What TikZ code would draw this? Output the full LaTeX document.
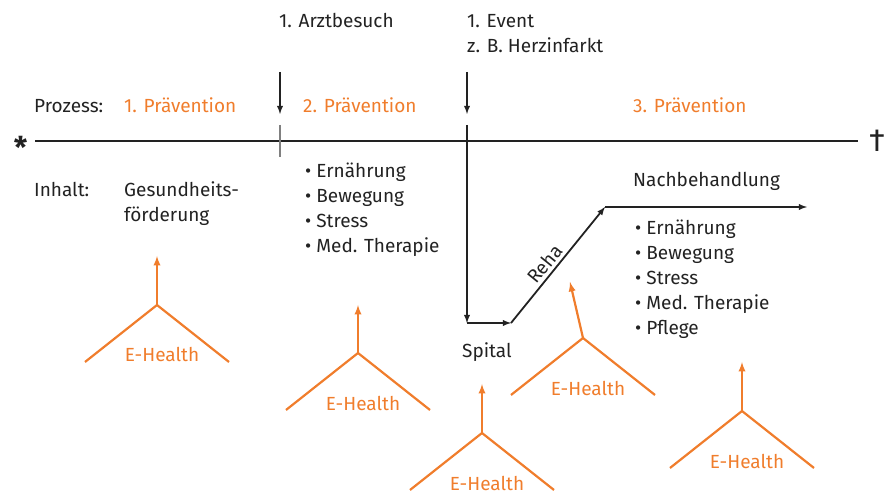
\documentclass[tikz,border=0pt]{standalone}
\usepackage{fontspec}
\setmainfont{Fira Sans}
\usetikzlibrary{arrows}
\definecolor{ehorange}{HTML}{F07D2C}
\definecolor{ink}{HTML}{222222}
\begin{document}
\begin{tikzpicture}[x=1pt,y=-1pt]
\tikzstyle{txt}=[inner sep=0pt, anchor=base west, text=ink, font=\fontsize{19}{25}\selectfont]
\tikzstyle{phase}=[txt, text=ehorange]
\tikzstyle{eh}=[inner sep=0pt, anchor=base, text=ehorange, font=\fontsize{19}{25}\selectfont]
\tikzstyle{flow}=[-latex, line width=1.8pt, draw=ink]
\tikzstyle{ehline}=[draw=ehorange, line width=2.2pt]
\tikzstyle{eharrow}=[ehline, -latex]
\useasboundingbox (0,0) rectangle (895,494);
% timeline
\node[inner sep=0pt, anchor=base, text=ink, font=\fontsize{30}{30}\selectfont\bfseries] (birth) at (20.5,159) {*};
\node[inner sep=0pt, anchor=center, text=ink, font=\fontsize{32}{32}\selectfont] (death) at (877,141) {†};
\coordinate (tl0) at (35,141);
\coordinate (tl1) at (858,141);
\draw[ink, line width=1.3pt] (tl0) -- (tl1);
\draw[gray, line width=1.3pt] (280,125) -- (280,157);
% events
\node[txt] (arzt) at (279,28) {1. Arztbesuch};
\node[txt, align=left] (event) at (467,53) {1. Event\\z. B. Herzinfarkt};
\coordinate (arzt1) at (280,72);
\coordinate (arzt2) at (280,114);
\coordinate (event1) at (467,72);
\coordinate (event2) at (467,114);
\draw[flow] (arzt1) -- (arzt2);
\draw[flow] (event1) -- (event2);
% phases
\node[txt] (prozess) at (34,113) {Prozess:};
\node[phase] (p1) at (124,113) {1. Prävention};
\node[phase] (p2) at (303,113) {2. Prävention};
\node[phase] (p3) at (633,113) {3. Prävention};
\node[txt] (inhalt) at (34,197) {Inhalt:};
\node[txt, align=left] (gesund) at (124,222) {Gesundheits-\\förderung};
\node[txt, align=left] (list2) at (305,253) {• Ernährung\\• Bewegung\\• Stress\\• Med. Therapie};
% patient path
\coordinate (evtop) at (467,125);
\coordinate (spital) at (467,323);
\coordinate (rehastart) at (511,323);
\coordinate (nach) at (605,207);
\coordinate (nachend) at (807,207);
\draw[flow] (evtop) -- (spital);
\draw[flow] (spital) -- (rehastart);
\draw[flow] (rehastart) -- node[sloped, above=3pt, pos=0.45, inner sep=0pt, text=ink, font=\fontsize{19}{25}\selectfont] (reha) {Reha} (nach);
\draw[flow] (nach) -- (nachend);
\node[txt] (spitaltxt) at (462,358) {Spital};
\node[txt] (nachb) at (633,187) {Nachbehandlung};
\node[txt, align=left] (list3) at (635,335) {• Ernährung\\• Bewegung\\• Stress\\• Med. Therapie\\• Pflege};
% e-health 1
\coordinate (y1) at (157,305);
\coordinate (y1top) at (157,256);
\coordinate (y1l) at (85,362);
\coordinate (y1r) at (229,362);
\node[eh] (eh1) at (162,362) {E-Health};
\draw[eharrow] (y1) -- (y1top);
\draw[ehline] (y1l) -- (y1) -- (y1r);
% e-health 2
\coordinate (y2) at (358,353);
\coordinate (y2top) at (358,305);
\coordinate (y2l) at (286,410);
\coordinate (y2r) at (430,410);
\node[eh] (eh2) at (363,410) {E-Health};
\draw[eharrow] (y2) -- (y2top);
\draw[ehline] (y2l) -- (y2) -- (y2r);
% e-health 3
\coordinate (y3) at (482,433);
\coordinate (y3top) at (482,384);
\coordinate (y3l) at (410,490);
\coordinate (y3r) at (554,490);
\node[eh] (eh3) at (487,490) {E-Health};
\draw[eharrow] (y3) -- (y3top);
\draw[ehline] (y3l) -- (y3) -- (y3r);
% e-health 4
\coordinate (y4) at (583,338);
\coordinate (y4top) at (570,282);
\coordinate (y4l) at (511,395);
\coordinate (y4r) at (655,395);
\node[eh] (eh4) at (588,396) {E-Health};
\draw[eharrow] (y4) -- (y4top);
\draw[ehline] (y4l) -- (y4) -- (y4r);
% e-health 5
\coordinate (y5) at (742,411);
\coordinate (y5top) at (742,362);
\coordinate (y5l) at (670,468);
\coordinate (y5r) at (814,468);
\node[eh] (eh5) at (747,468) {E-Health};
\draw[eharrow] (y5) -- (y5top);
\draw[ehline] (y5l) -- (y5) -- (y5r);
\end{tikzpicture}
\end{document}
